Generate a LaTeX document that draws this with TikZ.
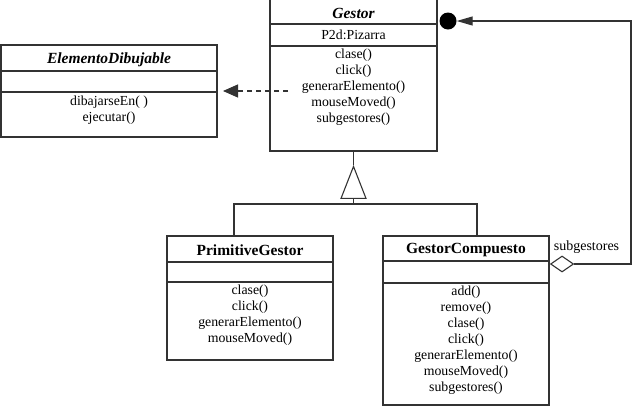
\documentclass[tikz,border=0pt]{standalone}
\usepackage{fontspec}
\setmainfont{Liberation Serif}
\usetikzlibrary{shapes.geometric,arrows.meta}
\begin{document}
\begin{tikzpicture}[x=1pt,y=-1pt,
  ln/.style={draw=black!80,line width=1.1pt},
  box/.style={ln,anchor=north west,inner sep=0pt,outer sep=0pt},
  ttl/.style={font=\fontsize{15.5}{18}\selectfont\bfseries,inner sep=0pt},
  itl/.style={font=\fontsize{15.5}{18}\selectfont\bfseries\itshape,inner sep=0pt},
  txt/.style={font=\fontsize{13.8}{16}\selectfont,align=center,inner sep=0pt},
]
\useasboundingbox (0,0) rectangle (636,408);
% ---- boxes
\node[box,minimum width=216pt,minimum height=92pt] (ed) at (1,45) {};
\node[box,minimum width=167pt,minimum height=155pt] (gestor) at (270,-4) {};
\node[box,minimum width=166pt,minimum height=124pt] (pg) at (167,236) {};
\node[box,minimum width=166pt,minimum height=169pt] (gc) at (383,236) {};
% ---- separators
\draw[ln] (1,71) -- (217,71);
\draw[ln] (1,92) -- (217,92);
\draw[ln] (270,24) -- (437,24);
\draw[ln] (270,46) -- (437,46);
\draw[ln] (167,262) -- (333,262);
\draw[ln] (167,282) -- (333,282);
\draw[ln] (383,261) -- (549,261);
\draw[ln] (383,283) -- (549,283);
% ---- texts
\node[itl] (edT) at (109,60) {ElementoDibujable};
\node[txt] (edM) at (109,110) {dibajarseEn( )\\ejecutar()};
\node[itl] (gT) at (353.5,13) {Gestor};
\node[txt] (gA) at (353.5,35) {P2d:Pizarra};
\node[txt] (gM) at (353.5,87) {clase()\\click()\\generarElemento()\\mouseMoved()\\subgestores()};
\node[ttl] (pgT) at (250,250) {PrimitiveGestor};
\node[txt] (pgM) at (250,315) {clase()\\click()\\generarElemento()\\mouseMoved()};
\node[ttl] (gcT) at (466,250) {GestorCompuesto};
\node[txt] (gcM) at (466,340) {add()\\remove()\\clase()\\click()\\generarElemento()\\mouseMoved()\\subgestores()};
% ---- dependency (dashed)
\coordinate (dstart) at (288,91);
\draw[ln,dash pattern=on 5pt off 4pt,shorten >=6pt,-{Triangle[length=15pt,width=13pt]}] (dstart) -- (ed.east |- dstart);
% ---- generalization
\node[isosceles triangle,shape border rotate=90,isosceles triangle stretches,ln,fill=white,
      minimum height=32pt,minimum width=25pt,inner sep=0pt,anchor=apex] (tri) at (353.5,165) {};
\coordinate (junc) at (353.5,204);
\coordinate (pgtop) at (234,236);
\coordinate (gctop) at (477,236);
\draw[ln] (gestor.south) -- (tri.apex);
\draw[ln] (tri.lower side) -- (junc);
\draw[ln] (pgtop) -- (pgtop |- junc) -- (gctop |- junc) -- (gctop);
% ---- aggregation
\node[diamond,ln,fill=white,minimum width=23pt,minimum height=16pt,inner sep=0pt,anchor=west] (dia) at (550,264) {};
\node[txt,font=\fontsize{14}{16}\selectfont] (sub) at (586.5,247) {subgestores};
\node[circle,fill=black,minimum size=17pt,inner sep=0pt] (ball) at (448,21) {};
\coordinate (rc) at (631,21);
\draw[ln,-{Triangle[length=16pt,width=9pt]}] (dia.east) -| (rc) -- (ball.east);
\end{tikzpicture}
\end{document}
